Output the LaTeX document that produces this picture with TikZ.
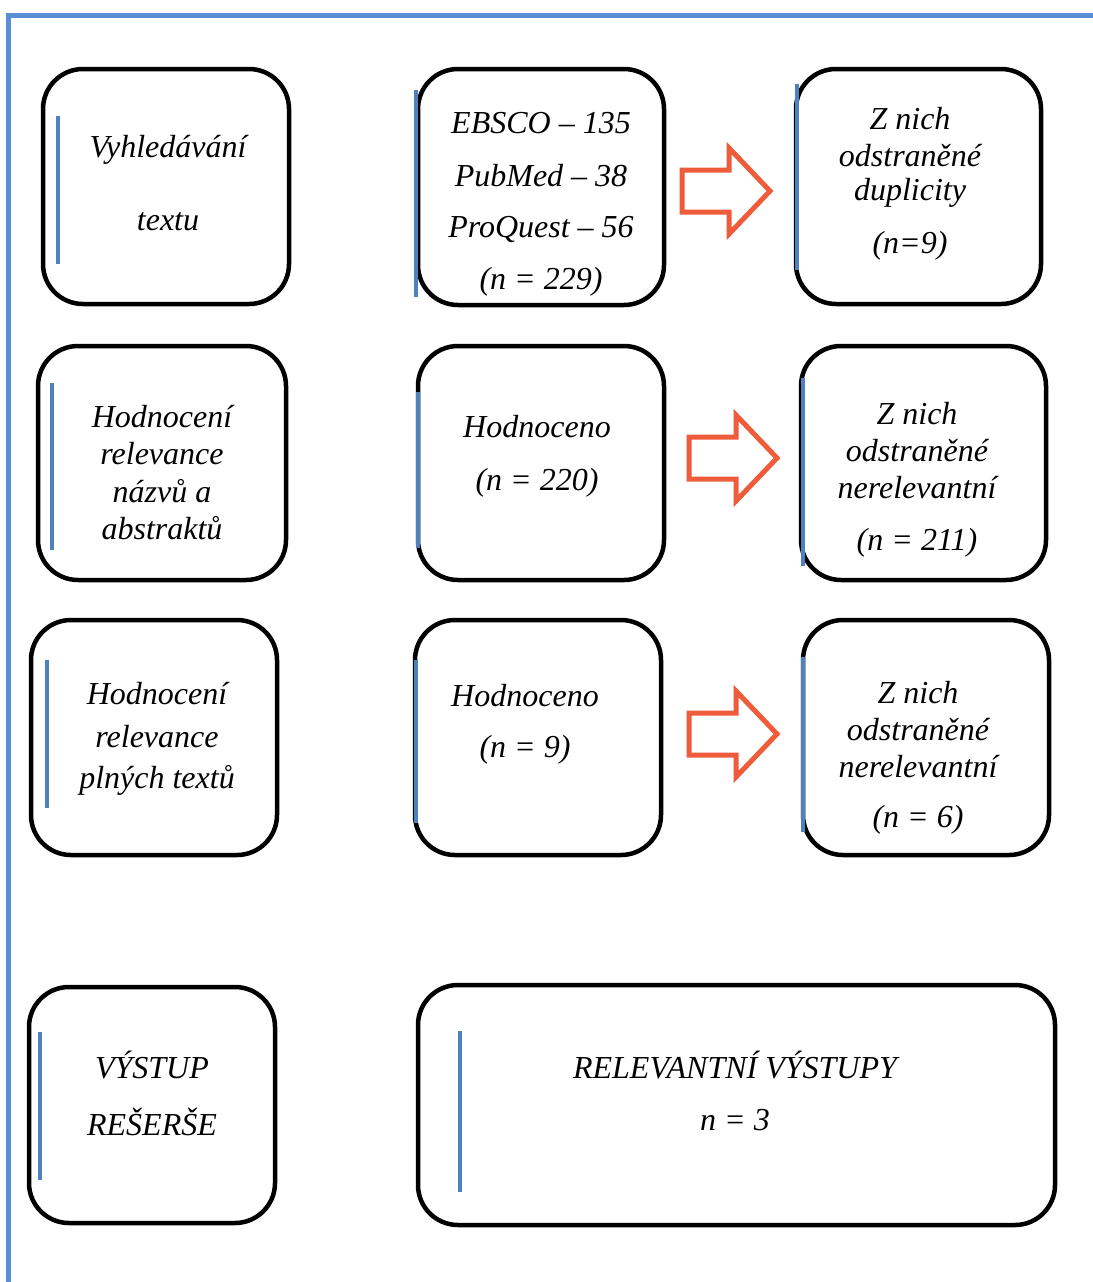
\documentclass[tikz,border=0pt]{standalone}
\usepackage{fontspec}
\setmainfont{Liberation Serif}
\begin{document}
\begin{tikzpicture}[x=1pt,y=-1pt,
  box/.style={draw=black,line width=4.5pt,rounded corners=40pt,inner sep=0pt},
  txt/.style={font=\fontsize{32}{36}\selectfont\itshape,inner sep=0pt,anchor=center},
  bar/.style={draw=barblue,line width=3.5pt},
  blockarrow/.style={draw=arrred,line width=5pt,fill=white,line join=miter}]
\definecolor{barblue}{RGB}{79,129,189}
\definecolor{frameblue}{RGB}{88,143,212}
\definecolor{arrred}{RGB}{238,92,60}
\useasboundingbox (0,0) rectangle (1092,1282);
\fill[white] (0,0) rectangle (1092,1282);
% frame
\draw[frameblue,line width=5pt] (8,1290) -- (8,15) -- (1100,15);
% boxes
\node[box,minimum width=246pt,minimum height=235pt] (A) at (166,186.5) {};
\node[box,minimum width=246pt,minimum height=236pt] (B) at (541,187) {};
\node[box,minimum width=245pt,minimum height=235pt] (C) at (918.5,186.5) {};
\node[box,minimum width=248pt,minimum height=234pt] (D) at (162,463) {};
\node[box,minimum width=246pt,minimum height=234pt] (E) at (541,463) {};
\node[box,minimum width=245pt,minimum height=234pt] (F) at (923.5,463) {};
\node[box,minimum width=246pt,minimum height=235pt] (G) at (154,737.5) {};
\node[box,minimum width=246pt,minimum height=235pt] (H) at (538,737.5) {};
\node[box,minimum width=246pt,minimum height=235pt] (I) at (926,737.5) {};
\node[box,minimum width=246pt,minimum height=236pt] (J) at (152,1105) {};
\node[box,minimum width=637pt,minimum height=240pt] (K) at (736.5,1105) {};
% blue bars
\draw[bar] (58,116) -- (58,264);
\draw[bar] (416,90) -- (416,297);
\draw[bar] (797,84) -- (797,270);
\draw[bar] (52,383) -- (52,550);
\draw[bar] (418,392) -- (418,548);
\draw[bar] (803,378) -- (803,566);
\draw[bar] (47,660) -- (47,808);
\draw[bar] (416,660) -- (416,823);
\draw[bar] (803,657) -- (803,832);
\draw[bar] (40,1032) -- (40,1180);
\draw[bar] (460,1031) -- (460,1192);
% block arrows
\draw[blockarrow] (682,170) -- (729,170) -- (729,148) -- (770,191) -- (729,234) -- (729,212) -- (682,212) -- cycle;
\draw[blockarrow] (689,437) -- (736,437) -- (736,415) -- (777,458) -- (736,501) -- (736,479) -- (689,479) -- cycle;
\draw[blockarrow] (689,713) -- (736,713) -- (736,691) -- (777,734) -- (736,777) -- (736,755) -- (689,755) -- cycle;
% texts
\node[txt] (a1) at (168,150) {Vyhledávání};
\node[txt] (a2) at (168,222) {textu};
\node[txt] (b1) at (541,123) {EBSCO – 135};
\node[txt] (b2) at (541,176) {PubMed – 38};
\node[txt] (b3) at (541,229) {ProQuest – 56};
\node[txt] (b4) at (541,282) {(n = 229)};
\node[txt] (c1) at (910,119) {Z nich};
\node[txt] (c2) at (910,156) {odstraněné};
\node[txt] (c3) at (910,193) {duplicity};
\node[txt] (c4) at (910,246) {(n=9)};
\node[txt] (d1) at (162,417) {Hodnocení};
\node[txt] (d2) at (162,454) {relevance};
\node[txt] (d3) at (162,491) {názvů a};
\node[txt] (d4) at (162,528) {abstraktů};
\node[txt] (e1) at (537,427) {Hodnoceno};
\node[txt] (e2) at (537,483) {(n = 220)};
\node[txt] (f1) at (917,414) {Z nich};
\node[txt] (f2) at (917,451) {odstraněné};
\node[txt] (f3) at (917,488) {nerelevantní};
\node[txt] (f4) at (917,543) {(n = 211)};
\node[txt] (g1) at (157,694) {Hodnocení};
\node[txt] (g2) at (157,737) {relevance};
\node[txt] (g3) at (157,780) {plných textů};
\node[txt] (h1) at (525,696) {Hodnoceno};
\node[txt] (h2) at (525,750) {(n = 9)};
\node[txt] (i1) at (918,693) {Z nich};
\node[txt] (i2) at (918,730) {odstraněné};
\node[txt] (i3) at (918,767) {nerelevantní};
\node[txt] (i4) at (918,820) {(n = 6)};
\node[txt] (j1) at (152,1065) {VÝSTUP};
\node[txt] (j2) at (152,1122) {REŠERŠE};
\node[txt] (k1) at (735,1065) {RELEVANTNÍ VÝSTUPY};
\node[txt] (k2) at (735,1120) {n = 3};
\end{tikzpicture}
\end{document}
